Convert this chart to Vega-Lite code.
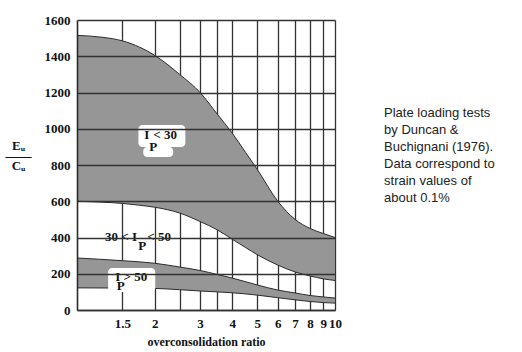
{
  "$schema": "https://vega.github.io/schema/vega-lite/v6.json",
  "width": 258,
  "height": 290,
  "autosize": {"type": "none"},
  "padding": {"left": 77, "top": 20, "right": 187, "bottom": 42},
  "background": "white",
  "config": {
    "view": {"stroke": null},
    "axis": {
      "ticks": false,
      "domain": true,
      "domainColor": "#2b2b2b",
      "domainWidth": 1.6,
      "grid": true,
      "gridColor": "#333333",
      "gridWidth": 1.3,
      "gridOpacity": 1,
      "labelFont": "Liberation Serif",
      "labelFontSize": 13,
      "labelFontWeight": "bold",
      "labelColor": "#111111",
      "titleFont": "Liberation Serif",
      "titleFontSize": 12,
      "titleFontWeight": "bold",
      "titleColor": "#111111",
      "zindex": 1
    }
  },
  "title": {
    "text": ["Plate loading tests", "by Duncan &", "Buchignani (1976).", "Data correspond to", "strain values of", "about 0.1%"],
    "orient": "right",
    "angle": 0,
    "anchor": "start",
    "align": "left",
    "baseline": "top",
    "font": "Liberation Sans",
    "fontSize": 13,
    "fontWeight": "normal",
    "color": "#222222",
    "lineHeight": 17,
    "offset": 47,
    "dx": -115,
    "dy": 93
  },
  "datasets": {
    "bands": [
      {"band": "Ip<30", "x": 1, "hi": 1515, "lo": 600},
      {"band": "Ip<30", "x": 1.25, "hi": 1505, "lo": 595},
      {"band": "Ip<30", "x": 1.5, "hi": 1485, "lo": 588},
      {"band": "Ip<30", "x": 1.75, "hi": 1450, "lo": 578},
      {"band": "Ip<30", "x": 2, "hi": 1405, "lo": 567},
      {"band": "Ip<30", "x": 2.5, "hi": 1300, "lo": 535},
      {"band": "Ip<30", "x": 3, "hi": 1200, "lo": 488},
      {"band": "Ip<30", "x": 3.5, "hi": 1080, "lo": 442},
      {"band": "Ip<30", "x": 4, "hi": 975, "lo": 390},
      {"band": "Ip<30", "x": 4.5, "hi": 870, "lo": 345},
      {"band": "Ip<30", "x": 5, "hi": 775, "lo": 305},
      {"band": "Ip<30", "x": 6, "hi": 600, "lo": 248},
      {"band": "Ip<30", "x": 7, "hi": 500, "lo": 210},
      {"band": "Ip<30", "x": 8, "hi": 450, "lo": 188},
      {"band": "Ip<30", "x": 9, "hi": 422, "lo": 172},
      {"band": "Ip<30", "x": 10, "hi": 400, "lo": 163},
      {"band": "Ip>50", "x": 1, "hi": 287, "lo": 122},
      {"band": "Ip>50", "x": 1.5, "hi": 272, "lo": 121},
      {"band": "Ip>50", "x": 2, "hi": 258, "lo": 119},
      {"band": "Ip>50", "x": 2.5, "hi": 237, "lo": 112},
      {"band": "Ip>50", "x": 3, "hi": 218, "lo": 105},
      {"band": "Ip>50", "x": 3.5, "hi": 196, "lo": 100},
      {"band": "Ip>50", "x": 4, "hi": 176, "lo": 95},
      {"band": "Ip>50", "x": 5, "hi": 138, "lo": 82},
      {"band": "Ip>50", "x": 6, "hi": 110, "lo": 68},
      {"band": "Ip>50", "x": 7, "hi": 94, "lo": 56},
      {"band": "Ip>50", "x": 8, "hi": 80, "lo": 47},
      {"band": "Ip>50", "x": 9, "hi": 72, "lo": 41},
      {"band": "Ip>50", "x": 10, "hi": 66, "lo": 38}
    ],
    "blobs": [
      {"x": 1.73, "x2": 2.63, "y": 899, "y2": 1021},
      {"x": 1.806, "x2": 2.36, "y": 844, "y2": 899},
      {"x": 1.32, "x2": 2.01, "y": 100, "y2": 232}
    ],
    "labels": [
      {"t": "I", "x": 1.823, "y": 965},
      {"t": "< 30", "x": 1.976, "y": 965},
      {"t": "P", "x": 1.906, "y": 899},
      {"t": "30 < I", "x": 1.285, "y": 404},
      {"t": "P", "x": 1.727, "y": 352},
      {"t": "< 50", "x": 1.873, "y": 404},
      {"t": "I", "x": 1.406, "y": 184},
      {"t": "> 50", "x": 1.514, "y": 184},
      {"t": "P", "x": 1.427, "y": 132}
    ]
  },
  "encoding": {
    "x": {
      "field": "x",
      "type": "quantitative",
      "scale": {"type": "log", "domain": [1, 10], "nice": false},
      "axis": {
        "values": [1.5, 2, 2.5, 3, 3.5, 4, 5, 6, 7, 8, 9, 10],
        "labelExpr": "datum.value == 2.5 || datum.value == 3.5 ? '' : format(datum.value, '~g')",
        "labelOverlap": false,
        "labelFlush": false,
        "labelPadding": 7,
        "title": "overconsolidation ratio",
        "titlePadding": 6
      }
    }
  },
  "layer": [
    {
      "data": {"name": "bands"},
      "mark": {"type": "area", "color": "#969696", "interpolate": "monotone"},
      "encoding": {
        "y": {
          "field": "hi",
          "type": "quantitative",
          "scale": {"domain": [0, 1600], "nice": false},
          "axis": {"values": [0, 200, 400, 600, 800, 1000, 1200, 1400, 1600], "grid": true, "gridColor": "#333333", "gridWidth": 1.3, "zindex": 1, "format": "d", "labelOverlap": false, "labelFlush": false, "labelPadding": 7, "title": ["Eᵤ", "——", "Cᵤ"], "titleAngle": 0, "titleAlign": "center", "titleBaseline": "middle", "titleX": -59, "titleY": 125, "titleLineHeight": 10, "titleFontSize": 13}
        },
        "y2": {"field": "lo"},
        "detail": {"field": "band"}
      }
    },
    {
      "data": {"name": "bands"},
      "mark": {"type": "line", "color": "#2b2b2b", "strokeWidth": 1, "interpolate": "monotone"},
      "encoding": {
        "y": {"field": "hi", "type": "quantitative", "axis": {"values": [0, 200, 400, 600, 800, 1000, 1200, 1400, 1600], "grid": true, "gridColor": "#333333", "gridWidth": 1.3, "zindex": 1, "format": "d", "labelOverlap": false, "labelFlush": false, "labelPadding": 7, "title": ["Eᵤ", "——", "Cᵤ"], "titleAngle": 0, "titleAlign": "center", "titleBaseline": "middle", "titleX": -59, "titleY": 125, "titleLineHeight": 10, "titleFontSize": 13}},
        "detail": {"field": "band"}
      }
    },
    {
      "data": {"name": "bands"},
      "mark": {"type": "line", "color": "#2b2b2b", "strokeWidth": 1, "interpolate": "monotone"},
      "encoding": {
        "y": {"field": "lo", "type": "quantitative", "axis": {"values": [0, 200, 400, 600, 800, 1000, 1200, 1400, 1600], "grid": true, "gridColor": "#333333", "gridWidth": 1.3, "zindex": 1, "format": "d", "labelOverlap": false, "labelFlush": false, "labelPadding": 7, "title": ["Eᵤ", "——", "Cᵤ"], "titleAngle": 0, "titleAlign": "center", "titleBaseline": "middle", "titleX": -59, "titleY": 125, "titleLineHeight": 10, "titleFontSize": 13}},
        "detail": {"field": "band"}
      }
    },
    {
      "data": {"name": "blobs"},
      "mark": {"type": "rect", "color": "white", "cornerRadius": 4},
      "encoding": {
        "x2": {"field": "x2"},
        "y": {"field": "y", "type": "quantitative", "axis": {"values": [0, 200, 400, 600, 800, 1000, 1200, 1400, 1600], "grid": true, "gridColor": "#333333", "gridWidth": 1.3, "zindex": 1, "format": "d", "labelOverlap": false, "labelFlush": false, "labelPadding": 7, "title": ["Eᵤ", "——", "Cᵤ"], "titleAngle": 0, "titleAlign": "center", "titleBaseline": "middle", "titleX": -59, "titleY": 125, "titleLineHeight": 10, "titleFontSize": 13}},
        "y2": {"field": "y2"}
      }
    },
    {
      "data": {"name": "labels"},
      "mark": {"type": "text", "align": "left", "baseline": "middle", "font": "Liberation Serif", "fontSize": 13, "fontWeight": "bold", "color": "#111111"},
      "encoding": {
        "y": {"field": "y", "type": "quantitative", "axis": {"values": [0, 200, 400, 600, 800, 1000, 1200, 1400, 1600], "grid": true, "gridColor": "#333333", "gridWidth": 1.3, "zindex": 1, "format": "d", "labelOverlap": false, "labelFlush": false, "labelPadding": 7, "title": ["Eᵤ", "——", "Cᵤ"], "titleAngle": 0, "titleAlign": "center", "titleBaseline": "middle", "titleX": -59, "titleY": 125, "titleLineHeight": 10, "titleFontSize": 13}},
        "text": {"field": "t"}
      }
    }
  ]
}
